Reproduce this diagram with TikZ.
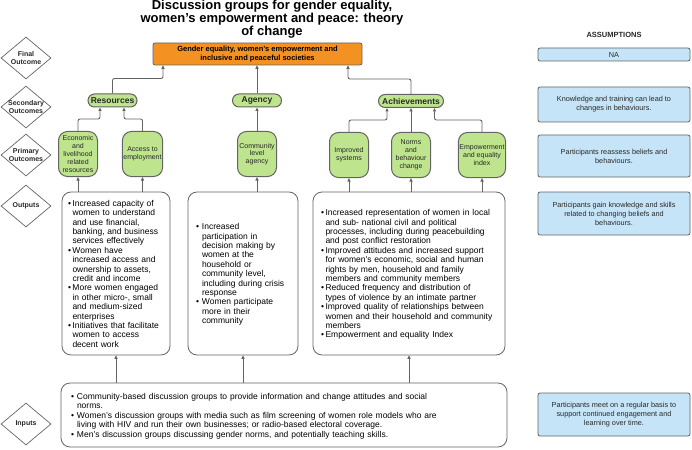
\documentclass[tikz,border=0pt]{standalone}
\usepackage{fontspec}
\setmainfont{Liberation Sans}
\usetikzlibrary{shapes.geometric,arrows.meta}

\definecolor{orangefill}{RGB}{243,145,34}
\definecolor{greenfill}{RGB}{190,228,141}
\definecolor{bluefill}{RGB}{198,228,247}
\definecolor{edgegray}{RGB}{100,100,100}
\definecolor{txtgray}{RGB}{40,40,40}

\newcommand{\bitem}[2][4.5pt]{\par\lineskip=0pt\lineskiplimit=0pt\noindent\makebox[#1][l]{\textbullet}\begin{tabular}[t]{@{}l@{}}#2\end{tabular}\par}

\begin{document}
\begin{tikzpicture}
  [x=1pt,y=-1pt,every node/.style={text=txtgray}]

	\tikzset{
	dia/.style = {diamond, draw=edgegray, line width=0.7pt, minimum width=50pt, minimum height=42pt, inner sep=0pt},
	diatxt/.style = {font=\fontsize{7}{8}\selectfont\bfseries, align=center},
	finalbox/.style = {draw=edgegray, line width=0.8pt, fill=orangefill, rounded corners=2pt, minimum width=209pt, minimum height=22pt, inner sep=1pt, align=center, text=black, font=\fontsize{7.5}{8.6}\selectfont\bfseries},
	pill/.style = {draw=edgegray, line width=1pt, fill=greenfill, rounded corners=6.5pt, minimum height=13pt, inner sep=1pt, font=\fontsize{8.5}{9}\selectfont\bfseries},
	prim/.style = {draw=edgegray, line width=1pt, fill=greenfill, rounded corners=9pt, minimum width=39pt, minimum height=45pt, inner sep=1pt, align=center, font=\fontsize{7}{7.8}\selectfont},
	outbox/.style = {draw=edgegray, line width=0.8pt, rounded corners=9pt, inner ysep=0pt, align=left, text=black, font=\fontsize{8.5}{9.4}\selectfont},
	asm/.style = {draw=edgegray, line width=0.8pt, fill=bluefill, rounded corners=2pt, minimum width=152pt, inner sep=1pt, align=center, font=\fontsize{7.3}{9}\selectfont},
	conn/.style = {draw=edgegray, line width=0.9pt, rounded corners=2pt, -{Triangle[length=3.5pt,width=3.2pt]}}
	}

  \useasboundingbox (0,0) rectangle (692,449);

  \node[inner sep=0pt, align=center, text=black, font=\fontsize{13}{13}\selectfont\bfseries] (title) at (272,19)
    {Discussion groups for gender equality,\\women's empowerment and peace: theory\\of change};
  \node[font=\fontsize{7.5}{8}\selectfont\bfseries] (asmhead) at (614,35) {ASSUMPTIONS};

  \node[dia, label={[diatxt]center:Final\\Outcome}] (dF) at (26,58) {};
  \node[dia, label={[diatxt]center:Secondary\\Outcomes}] (dS) at (26,107) {};
  \node[dia, label={[diatxt]center:Primary\\Outcomes}] (dP) at (26,155) {};
  \node[dia, label={[diatxt]center:Outputs}] (dO) at (26,206) {};
  \node[dia, label={[diatxt]center:Inputs}] (dI) at (26,424) {};

  \node[finalbox] (fin) at (257.5,54) {Gender equality, women's empowerment and\\inclusive and peaceful societies};

  \node[pill, minimum width=49pt] (res) at (112.5,100.5) {Resources};
  \node[pill, minimum width=49pt] (agn) at (257,100.5) {Agency};
  \node[pill, minimum width=65pt] (ach) at (411,101) {Achievements};

  \node[prim] (ecn) at (78,154) {Economic\\and\\livelihood\\related\\resources};
  \node[prim] (acc) at (142.5,154) {Access to\\employment};
  \node[prim] (com) at (257,154) {Community\\level\\agency};
  \node[prim] (imp) at (349,155) {Improved\\systems};
  \node[prim] (nrm) at (411,155) {Norms\\and\\behaviour\\change};
  \node[prim] (emp) at (482,155) {Empowerment\\and equality\\index};

  \node[outbox, inner xsep=6pt, text width=96pt, minimum height=163pt] (oL) at (116,273.5) {%
    \bitem{Increased capacity of\\women to understand\\and use financial,\\banking, and business\\services effectively}
    \bitem{Women have\\increased access and\\ownership to assets,\\credit and income}
    \bitem{More women engaged\\in other micro-, small\\and medium-sized\\enterprises}
    \bitem{Initiatives that facilitate\\women to access\\decent work}};
  \node[outbox, inner xsep=8pt, text width=94pt, minimum height=163pt] (oM) at (243,273.5) {%
    \bitem[6pt]{Increased\\participation in\\decision making by\\women at the\\household or\\community level,\\including during crisis\\response}
    \bitem[6pt]{Women participate\\more in their\\community}};
  \node[outbox, inner xsep=8pt, text width=176pt, minimum height=163pt] (oR) at (409,273.5) {%
    \bitem{Increased representation of women in local\\and sub- national civil and political\\processes, including during peacebuilding\\and post conflict restoration}
    \bitem{Improved attitudes and increased support\\for women's economic, social and human\\rights by men, household and family\\members and community members}
    \bitem{Reduced frequency and distribution of\\types of violence by an intimate partner}
    \bitem{Improved quality of relationships between\\women and their household and community\\members}
    \bitem{Empowerment and equality Index}};

  \node[outbox, inner xsep=10pt, text width=426pt, minimum height=64pt] (inp) at (284,415) {%
    \bitem[6pt]{Community-based discussion groups to provide information and change attitudes and social\\norms.}
    \bitem[6pt]{Women's discussion groups with media such as film screening of women role models who are\\living with HIV and run their own businesses; or radio-based electoral coverage.}
    \bitem[6pt]{Men's discussion groups discussing gender norms, and potentially teaching skills.}};

  \node[asm, minimum height=13pt] (aNA) at (614,54.5) {NA};
  \node[asm, minimum height=35pt] (aKn) at (614,104.5) {Knowledge and training can lead to\\changes in behaviours.};
  \node[asm, minimum height=42pt] (aRe) at (614,156) {Participants reassess beliefs and\\behaviours.};
  \node[asm, minimum height=43pt] (aGa) at (614,213.5) {Participants gain knowledge and skills\\related to changing beliefs and\\behaviours.};
  \node[asm, minimum height=43pt] (aMe) at (614,414.5) {Participants meet on a regular basis to\\support continued engagement and\\learning over time.};

  \draw[conn] (res.north) -- ++(0,-15) -| ([xshift=-94.5pt]fin.south);
  \draw[conn] (ach.north) -- ++(0,-15) -| ([xshift=90.5pt]fin.south);

  \foreach \from/\to/\dx in {ecn/res/-12.5, acc/res/11.5, imp/ach/-24, emp/ach/23.5}
    \draw[conn] (\from.north) -- ++(0,-12) -| ([xshift=\dx pt]\to.south);

  \foreach \from/\to in {com/agn, agn/fin, nrm/ach}
    \draw[conn] (\from.north) -- (\from.north |- \to.south);

  \foreach \from/\to in {oL/ecn, oL/acc, oM/com, oR/imp, oR/nrm, oR/emp, inp/oL, inp/oM, inp/oR}
    \draw[conn] (\from.north -| \to) -- (\to.south);

\end{tikzpicture}
\end{document}
